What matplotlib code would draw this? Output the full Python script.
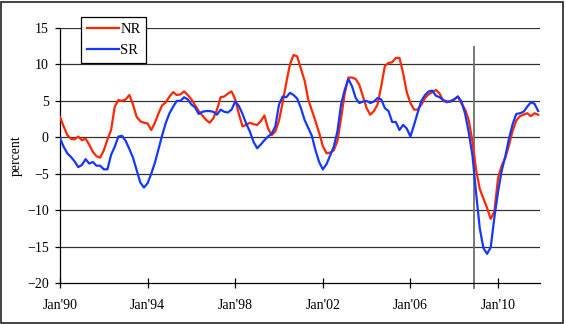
import numpy as np
import matplotlib
matplotlib.use('Agg')
import matplotlib.pyplot as plt
from matplotlib.patches import Rectangle

# bimonthly readings (Jan, Mar, May, Jul, Sep, Nov), Jan 1990 - Nov 2011
nr = [
	2.8, 1.5, 0.3, -0.2, -0.3, 0.1,      # 1990
	-0.4, -0.2, -1.0, -2.0, -2.6, -2.8,  # 1991
	-1.8, -0.3, 1.0, 4.2, 5.1, 5.0,      # 1992
	5.2, 5.8, 4.5, 2.8, 2.2, 2.0,        # 1993
	1.9, 1.0, 2.0, 3.3, 4.4, 4.8,        # 1994
	5.6, 6.2, 5.8, 5.9, 6.3, 5.8,        # 1995
	5.2, 4.4, 3.6, 3.0, 2.4, 2.0,        # 1996
	2.6, 3.8, 5.5, 5.6, 6.0, 6.3,        # 1997
	5.2, 3.2, 1.5, 1.7, 2.0, 1.8,        # 1998
	1.7, 2.2, 3.0, 1.2, 0.3, 0.8,        # 1999
	2.3, 4.8, 7.5, 10.0, 11.3, 11.1,     # 2000
	9.4, 7.8, 5.2, 3.7, 2.2, 0.6,        # 2001
	-1.2, -2.2, -2.1, -1.8, -0.5, 2.6,   # 2002
	6.0, 8.2, 8.2, 8.0, 7.2, 5.6,        # 2003
	4.0, 3.1, 3.6, 4.5, 7.0, 9.8,        # 2004
	10.2, 10.3, 10.9, 10.9, 8.8, 6.2,    # 2005
	4.7, 3.8, 3.8, 4.5, 5.4, 5.9,        # 2006
	6.2, 6.5, 6.0, 5.0, 4.8, 5.0,        # 2007
	5.2, 5.6, 4.6, 3.8, 2.3, -0.6,       # 2008
	-4.5, -7.1, -8.4, -9.7, -11.2, -10.2,  # 2009
	-5.6, -3.9, -2.8, -1.1, 0.9, 2.3,    # 2010
	2.9, 3.1, 3.3, 2.9, 3.3, 3.1,        # 2011
]

sr = [
	-0.1, -1.3, -2.2, -2.7, -3.3, -4.1,  # 1990
	-3.8, -3.0, -3.6, -3.4, -3.9, -3.9,  # 1991
	-4.4, -4.4, -2.4, -1.3, 0.1, 0.2,    # 1992
	-0.5, -1.6, -2.8, -4.5, -6.2, -6.9,  # 1993
	-6.3, -5.0, -3.5, -1.6, 0.3, 2.0,    # 1994
	3.3, 4.2, 5.0, 5.0, 5.5, 5.2,        # 1995
	4.5, 4.1, 3.2, 3.5, 3.6, 3.6,        # 1996
	3.5, 3.1, 3.8, 3.5, 3.4, 3.8,        # 1997
	4.9, 4.3, 3.2, 1.9, 0.8, -0.6,       # 1998
	-1.5, -1.0, -0.4, 0.1, 0.5, 1.5,     # 1999
	4.5, 5.6, 5.5, 6.1, 5.8, 5.3,        # 2000
	4.0, 2.4, 1.3, 0.2, -1.8, -3.4,      # 2001
	-4.4, -3.7, -2.5, -1.3, 0.8, 4.5,    # 2002
	6.5, 8.0, 7.0, 5.4, 4.7, 4.9,        # 2003
	5.0, 4.7, 4.9, 5.4, 5.2, 4.0,        # 2004
	3.6, 2.1, 2.1, 1.0, 1.7, 1.2,        # 2005
	0.1, 1.7, 3.4, 5.0, 5.8, 6.3,        # 2006
	6.4, 5.7, 5.5, 5.1, 4.9, 4.9,        # 2007
	5.2, 5.6, 4.9, 3.2, 0.6, -2.5,       # 2008
	-7.7, -12.5, -15.2, -16.0, -15.1, -11.0,  # 2009
	-7.5, -4.6, -2.6, -0.2, 1.8, 3.2,    # 2010
	3.3, 3.5, 4.2, 4.8, 4.6, 3.6,        # 2011
]

tick_labels = ["Jan'90", "Jan'94", "Jan'98", "Jan'02", "Jan'06", "Jan'10"]
break_month = 227  # vertical marker, months after Jan 1990

months = np.arange(len(nr)) * 2

plt.rcParams['font.family'] = ['Liberation Serif', 'DejaVu Serif']

fig = plt.figure(figsize=(5.66, 3.24), dpi=100)
ax = fig.add_axes([60 / 566, 41 / 324, 480 / 566, 255 / 324])

for y in range(-15, 20, 5):
	ax.axhline(y, color='#333333', lw=0.9, zorder=1)

ax.plot(months, nr, color='#ff2800', lw=1.6, label='NR', zorder=3)
ax.plot(months, sr, color='#1438ff', lw=1.6, label='SR', zorder=3)

ax.axvline(break_month, ymin=-0.018, ymax=(12.4 + 20) / 35, color='#6e6e6e',
	lw=1.3, clip_on=False, zorder=2)

ax.set_xlim(0, 263)
ax.set_ylim(-20, 15)
ax.set_xticks(np.arange(0, 241, 48))
ax.set_xticklabels(tick_labels)
ax.set_yticks(range(-20, 16, 5))

ax.tick_params(axis='x', direction='inout', length=7, width=0.9, pad=8, labelsize=10)
ax.tick_params(axis='y', direction='out', length=3.6, width=0.9, pad=4.5, labelsize=10)

for side in ['top', 'right']:
	ax.spines[side].set_visible(False)
for side in ['left', 'bottom']:
	ax.spines[side].set_linewidth(0.9)
	ax.spines[side].set_color('black')

ax.set_ylabel('percent', fontsize=10, labelpad=3)

leg = ax.legend(loc='upper left', bbox_to_anchor=(21 / 480, 1 + 11 / 255),
	borderaxespad=0, fontsize=10.5, handlelength=2.2, handletextpad=0.1,
	labelspacing=0.55, borderpad=0.4, fancybox=False, framealpha=1)
leg.get_frame().set_edgecolor('black')
leg.get_frame().set_linewidth(0.9)

fig.patches.append(Rectangle((1 / 566, 1 / 324), 562 / 566, 321 / 324,
	transform=fig.transFigure, fill=False, ec='#222222', lw=1.2))

fig.savefig('out.png', dpi=100)
